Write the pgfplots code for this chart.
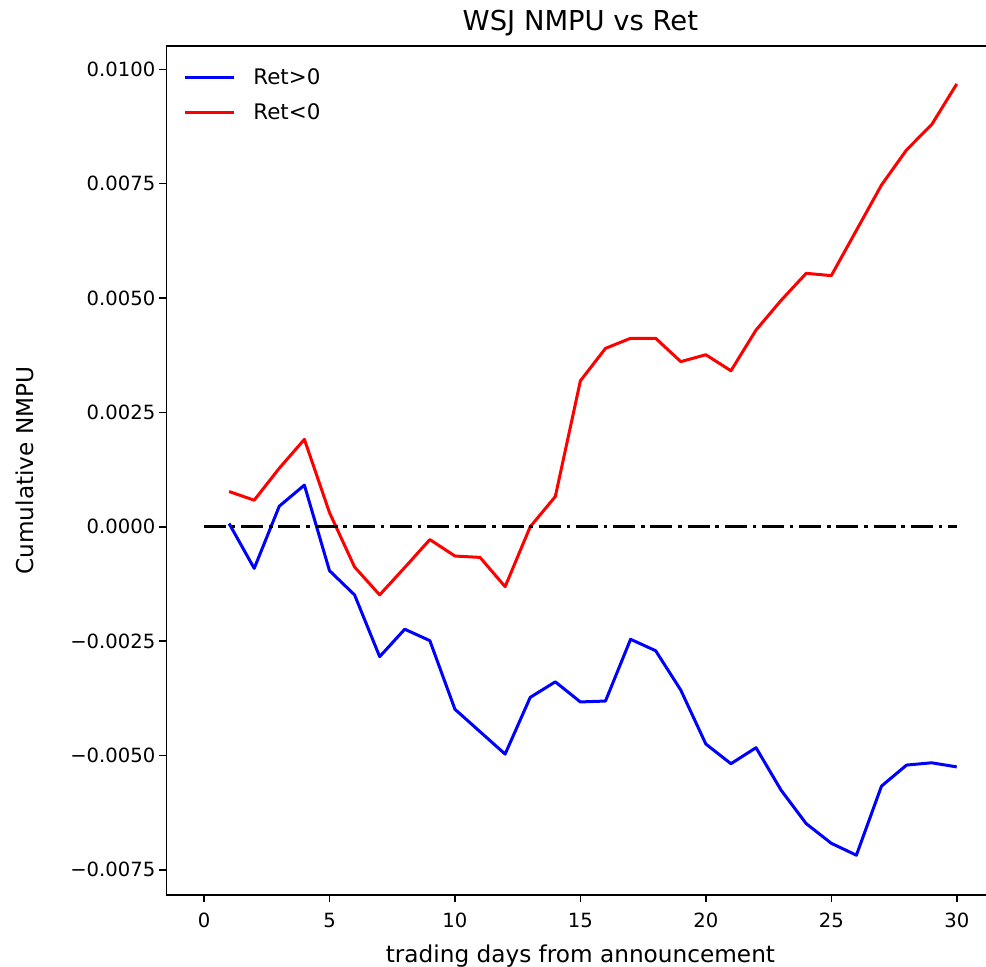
\documentclass[border=0pt]{standalone}
\usepackage{fontspec}
\setmainfont{DejaVu Sans}
\usepackage{pgfplots}
\pgfplotsset{compat=1.18}

\begin{document}
\begin{tikzpicture}
\begin{axis}[
  name=ax,
  scale only axis,
  width=414pt, height=424.5pt,
  xmin=-1.5, xmax=31.5,
  ymin=-0.00805, ymax=0.01051,
  scaled y ticks=false,
  axis line style={line width=0.8pt},
  tick style={line width=0.8pt, black},
  major tick length=3.5pt,
  tick align=outside,
  xtick pos=bottom, ytick pos=left,
  xtick={0,5,10,15,20,25,30},
  xticklabels={0,5,10,15,20,25,30},
  ytick={-0.0075,-0.005,-0.0025,0,0.0025,0.005,0.0075,0.01},
  yticklabels={−0.0075,−0.0050,−0.0025,0.0000,0.0025,0.0050,0.0075,0.0100},
  ticklabel style={font=\fontsize{9.8}{11}\selectfont},
  yticklabel style={xshift=1.5pt},
  xticklabel style={yshift=-2pt},
  title={WSJ NMPU vs Ret},
  every axis title shift=0pt,
  title style={font=\fontsize{13.7}{16}\selectfont, at={(axis description cs:0.5,1.0177)}, anchor=base},
  xlabel={trading days from announcement},
  ylabel={Cumulative NMPU},
  xlabel style={font=\fontsize{11.6}{14}\selectfont, at={(axis description cs:0.5,-0.0801)}, anchor=base},
  ylabel style={font=\fontsize{11.6}{14}\selectfont, at={(axis description cs:-0.1611,0.5)}, anchor=base, rotate=0},
  legend style={draw=none, fill=none, at={(axis description cs:0.0128,0.9835)}, anchor=north west,
    font=\fontsize{10.7}{13}\selectfont, row sep=4pt, column sep=7pt},
  legend cell align=left,
  legend image code/.code={\draw[#1] (0pt,0pt) -- (24.5pt,0pt);},
]
\addplot[blue, line width=1.5pt, line join=round] coordinates {
(1,0.00007) (2,-0.00091) (3,0.00045) (4,0.00091) (5,-0.00096)
(6,-0.00149) (7,-0.00284) (8,-0.00224) (9,-0.00249) (10,-0.00399)
(11,-0.00448) (12,-0.00497) (13,-0.00373) (14,-0.00339) (15,-0.00383)
(16,-0.00381) (17,-0.00246) (18,-0.00271) (19,-0.00357) (20,-0.00475)
(21,-0.00518) (22,-0.00483) (23,-0.00576) (24,-0.00649) (25,-0.00692)
(26,-0.00718) (27,-0.00567) (28,-0.00521) (29,-0.00516) (30,-0.00525)
};
\addlegendentry{Ret>0}
\addplot[red, line width=1.5pt, line join=round] coordinates {
(1,0.00077) (2,0.00058) (3,0.00128) (4,0.00191) (5,0.00031)
(6,-0.00088) (7,-0.00149) (8,-0.00089) (9,-0.00028) (10,-0.00064)
(11,-0.00067) (12,-0.00131) (13,0.00000) (14,0.00066) (15,0.00319)
(16,0.00390) (17,0.00412) (18,0.00412) (19,0.00361) (20,0.00376)
(21,0.00341) (22,0.00430) (23,0.00495) (24,0.00554) (25,0.00549)
(26,0.00648) (27,0.00747) (28,0.00824) (29,0.00879) (30,0.00968)
};
\addlegendentry{Ret<0}
% zero reference line
\addplot[black, line width=1.5pt, dash pattern=on 11pt off 2.9pt on 1.8pt off 2.9pt, forget plot]
  coordinates {(0,0) (30,0)};
\end{axis}
\pgfresetboundingbox
\path ([shift={(-83.2pt,-36pt)}]ax.south west) rectangle ([shift={(409.8pt,447.5pt)}]ax.south west);
\end{tikzpicture}
\end{document}
